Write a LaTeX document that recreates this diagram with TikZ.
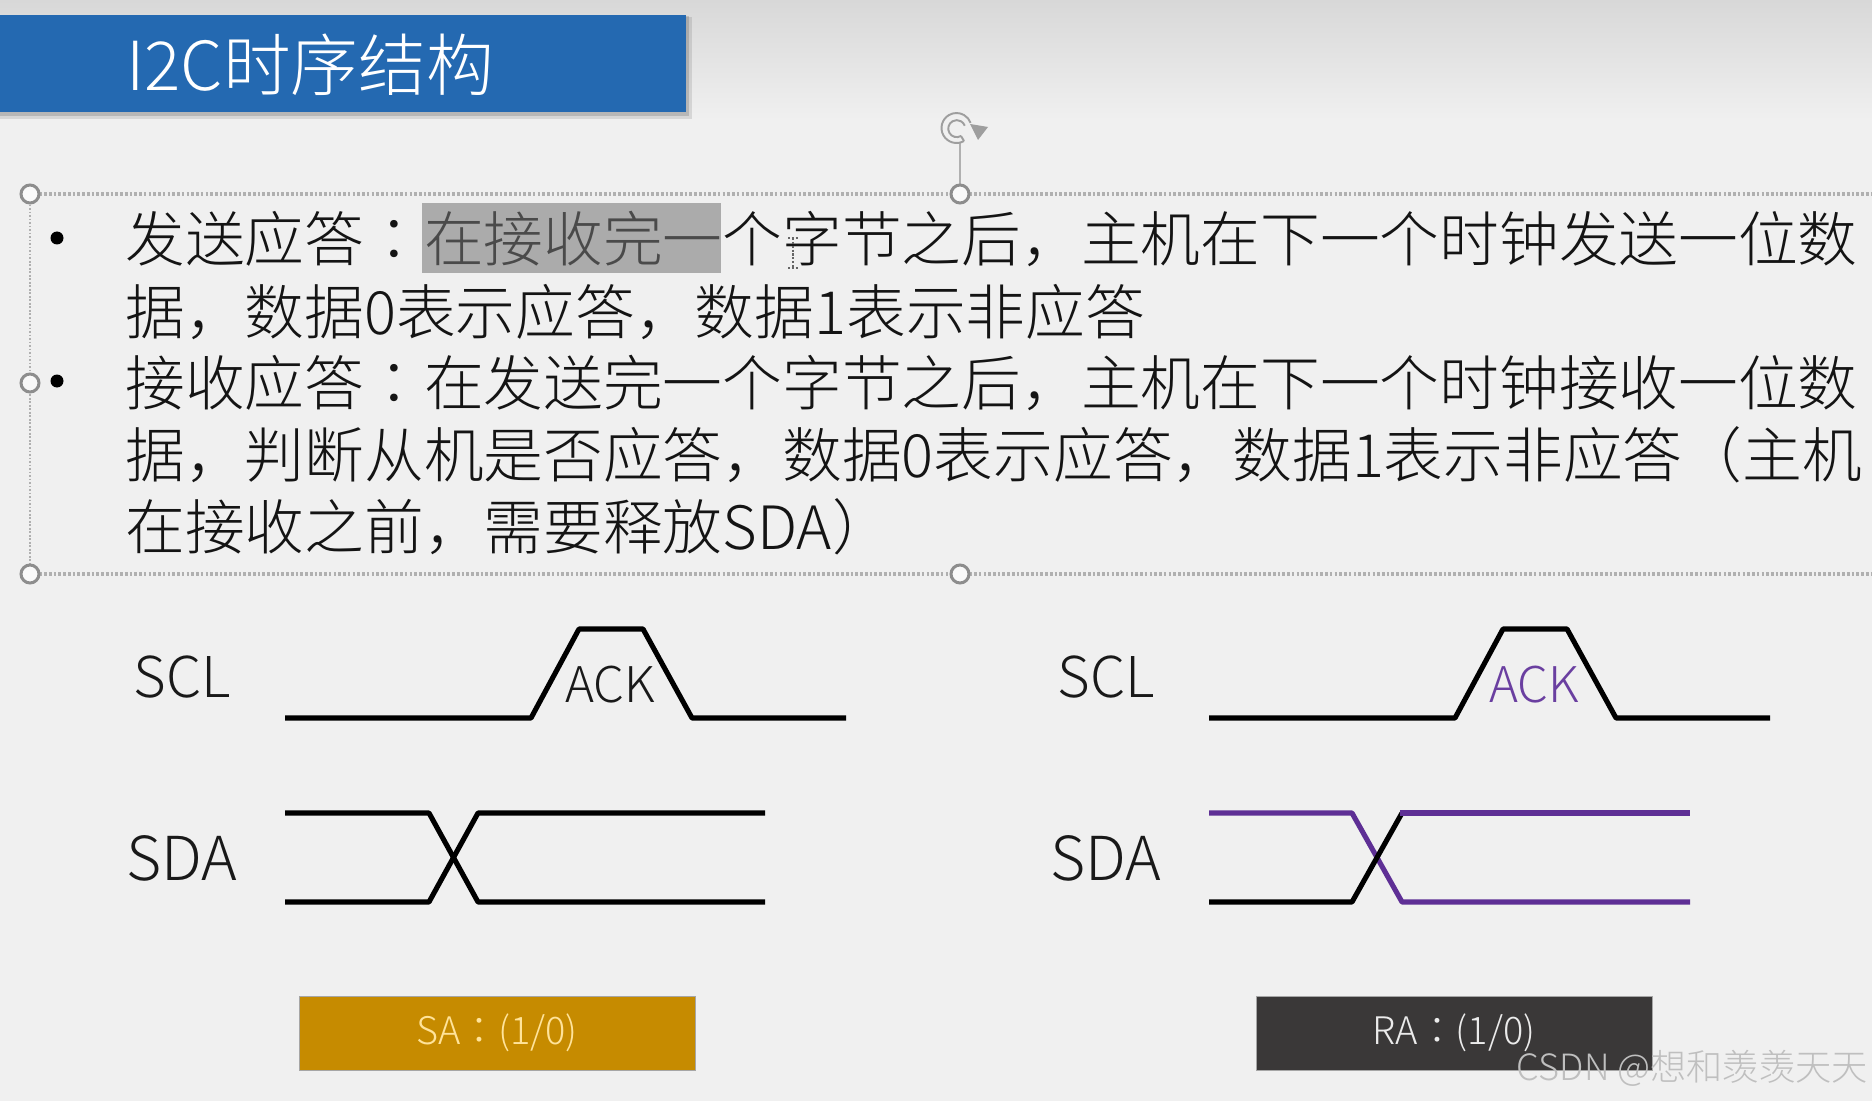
\documentclass[tikz,border=0pt]{standalone}
\usepackage{fontspec}
\setmainfont{Noto Sans CJK SC Light}
\newfontfamily\colonfont{Noto Sans CJK TC Light}
\usetikzlibrary{arrows.meta,calc}
\definecolor{slidebg}{HTML}{F0F0F0}
\definecolor{slidetop}{HTML}{D8D8D8}
\definecolor{titleblue}{HTML}{2469B1}
\definecolor{framegray}{HTML}{B0B0B0}
\definecolor{markgray}{HTML}{ABABAB}
\definecolor{sagold}{HTML}{C68B00}
\definecolor{satext}{HTML}{FFE39A}
\definecolor{radark}{HTML}{3A3838}
\definecolor{ackpurple}{HTML}{6A3FA0}
\definecolor{wirepurple}{HTML}{5E2F95}
\definecolor{marktext}{HTML}{4A4A4A}
\newcommand{\cc}{{\colonfont ：}}
\tikzset{
  bodyline/.style={anchor=west, inner sep=0pt, text=black!92, font=\fontsize{34}{35}\selectfont},
  siglabel/.style={inner sep=0pt, text=black!90, font=\fontsize{32}{33}\selectfont},
  sdalabel/.style={inner sep=0pt, text=black!90, font=\fontsize{34.5}{35}\selectfont},
  acklabel/.style={inner sep=0pt, text=black!90, font=\fontsize{28}{29}\selectfont},
  wire/.style={line width=2.9pt, black, line join=round},
  pwire/.style={line width=2.9pt, wirepurple, line join=round},
  statebox/.style={inner sep=0pt, minimum width=396*0.02cm, minimum height=74*0.02cm,
    font=\fontsize{21.6}{22}\selectfont, draw=black!35, line width=0.5pt},
  handle/.style={circle, draw=framegray!80!black, fill=white!60!slidebg, line width=1.7pt,
    minimum size=18*0.02cm, inner sep=0pt},
  framedots/.style={framegray, line width=2.4pt, dash pattern=on 1.5pt off 1.2pt}
}
\begin{document}
\begin{tikzpicture}[x=0.02cm, y=-0.02cm]
  \useasboundingbox (0,0) rectangle (1872,1101);
  % --- background ---
  \fill[slidebg] (0,0) rectangle (1872,1101);
  \shade[top color=slidetop, bottom color=slidebg, draw=none] (0,0) rectangle (1872,120);

  % --- title bar ---
  \fill[black, opacity=0.10] (0,17) rectangle (692,119);
  \fill[black, opacity=0.14] (0,16) rectangle (689,116);
  \fill[titleblue] (0,15) rectangle (686,112);
  \node[anchor=west, inner sep=0pt, text=white, font=\fontsize{38.5}{39}\selectfont]
    (title) at (126,65) {I2C时序结构};

  % --- selection frame ---
  \draw[framedots] (30,194) -- (1872,194);
  \draw[framedots] (30,574) -- (1872,574);
  \draw[framegray, line width=1pt, densely dotted] (30,194) -- (30,574);
  \draw[framegray, line width=1.2pt] (960,194) -- (960,143);
  \node[handle] (htl) at (30,194) {};
  \node[handle] (hml) at (30,383) {};
  \node[handle] (hbl) at (30,574) {};
  \node[handle] (htm) at (960,194) {};
  \node[handle] (hbm) at (960,574) {};

  % rotate mark
  \draw[framegray!90!black, line width=1.1pt] (964,141) arc (60:340:15);
  \draw[framegray!90!black, line width=1.1pt] (961,136) arc (60:340:8.5);
  \draw[framegray!90!black, line width=1.1pt] (964,141) -- (961,136);
  \fill[framegray!90!black] (970,124) -- (988,127) -- (978,140) -- cycle;

  % --- body text ---
  \fill[markgray] (422,203) rectangle (721,273);
  \node[bodyline] (l1) at (125,239) {发送应答\cc\textcolor{marktext}{在接收完一}个字节之后，主机在下一个时钟发送一位数};
  \node[bodyline] (l2) at (125,312) {据，数据0表示应答，数据1表示非应答};
  \node[bodyline] (l3) at (125,383) {接收应答\cc 在发送完一个字节之后，主机在下一个时钟接收一位数};
  \node[bodyline] (l4) at (125,455) {据，判断从机是否应答，数据0表示应答，数据1表示非应答（主机};
  \node[bodyline] (l5) at (125,527) {在接收之前，需要释放SDA）};
  \fill[black] (57,238) circle (6.5);
  \fill[black] (57,381) circle (6.5);

  % text cursor
  \draw[black!60, line width=1.2pt, densely dotted] (793,238) -- (793,268)
    (788,238) -- (798,238) (788,268) -- (798,268);

  % --- left wave ---
  \node[siglabel] (sclA) at (182,677) {SCL};
  \node[sdalabel] (sdaA) at (182,858) {SDA};
  \draw[wire] (285,718) -- (531,718) -- (579,629) -- (643,629) -- (692,718) -- (846,718);
  \draw[wire] (285,813) -- (429,813) -- (478,902) -- (765,902);
  \draw[wire] (285,902) -- (429,902) -- (478,813) -- (765,813);
  \node[acklabel] (ackA) at (610,685) {ACK};
  \node[statebox, fill=sagold, text=satext] (sa) at (497,1033) {\raisebox{-2.4pt}{SA\cc(1/0)}};

  % --- right wave ---
  \node[siglabel] (sclB) at (1106,677) {SCL};
  \node[sdalabel] (sdaB) at (1106,858) {SDA};
  \draw[wire] (1209,718) -- (1455,718) -- (1503,629) -- (1567,629) -- (1616,718) -- (1770,718);
  \draw[pwire] (1209,813) -- (1352,813) -- (1402,902) -- (1690,902);
  \draw[wire] (1209,902) -- (1352,902) -- (1402,813);
  \draw[pwire] (1400,813) -- (1690,813);
  \node[acklabel, text=ackpurple] (ackB) at (1534,685) {ACK};
  \node[statebox, fill=radark, text=black!8] (ra) at (1454,1033) {\raisebox{-2.4pt}{RA\cc(1/0)}};

  % --- watermark ---
  \node[anchor=east, inner sep=0pt, text=black!25, font=\fontsize{20.6}{21}\selectfont]
    (mark) at (1868,1068) {CSDN @想和羡羡天天};
\end{tikzpicture}
\end{document}
